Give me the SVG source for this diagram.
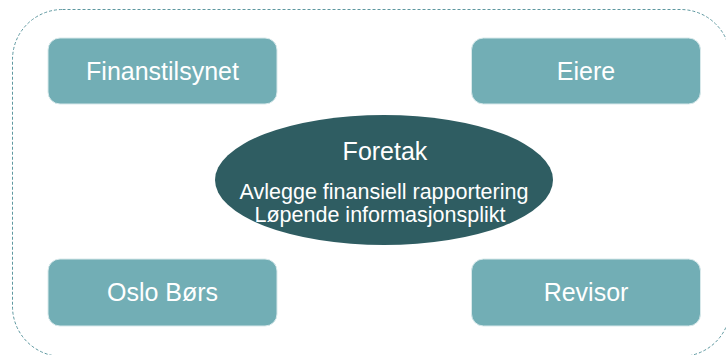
<svg xmlns="http://www.w3.org/2000/svg" width="726" height="355" viewBox="0 0 726 355">
<style>
.box{fill:#72AEB5;stroke:#D8E9EB;stroke-width:1}
.lbl{font-family:"Liberation Sans",Arial,sans-serif;fill:#FFFFFF;text-anchor:middle}
.big{font-size:25px}
.sm{font-size:21.5px}
</style>
<rect width="726" height="355" fill="#FFFFFF"/>
<g id="frame">
<rect x="12.5" y="9.5" width="718" height="347" rx="50" ry="50" fill="none" stroke="#5E98A0" stroke-width="1" stroke-dasharray="3,2"/>
</g>
<g id="connectors"></g>
<g id="finanstilsynet">
<rect class="box" x="48" y="38" width="229" height="66" rx="12" ry="12"/>
<text class="lbl big" x="162.5" y="80">Finanstilsynet</text>
</g>
<g id="eiere">
<rect class="box" x="471.5" y="38" width="229" height="66" rx="12" ry="12"/>
<text class="lbl big" x="586" y="80">Eiere</text>
</g>
<g id="oslo-bors">
<rect class="box" x="48" y="259" width="229" height="67" rx="12" ry="12"/>
<text class="lbl big" x="162.5" y="301">Oslo Børs</text>
</g>
<g id="revisor">
<rect class="box" x="471.5" y="259" width="229" height="67" rx="12" ry="12"/>
<text class="lbl big" x="586" y="301">Revisor</text>
</g>
<g id="foretak">
<ellipse cx="384" cy="180" rx="169" ry="65" fill="#2F5D62"/>
<text class="lbl big" x="385" y="160">Foretak</text>
<text class="lbl sm" x="384" y="199">Avlegge finansiell rapportering</text>
<text class="lbl sm" x="380" y="222">Løpende informasjonsplikt</text>
</g>
</svg>
